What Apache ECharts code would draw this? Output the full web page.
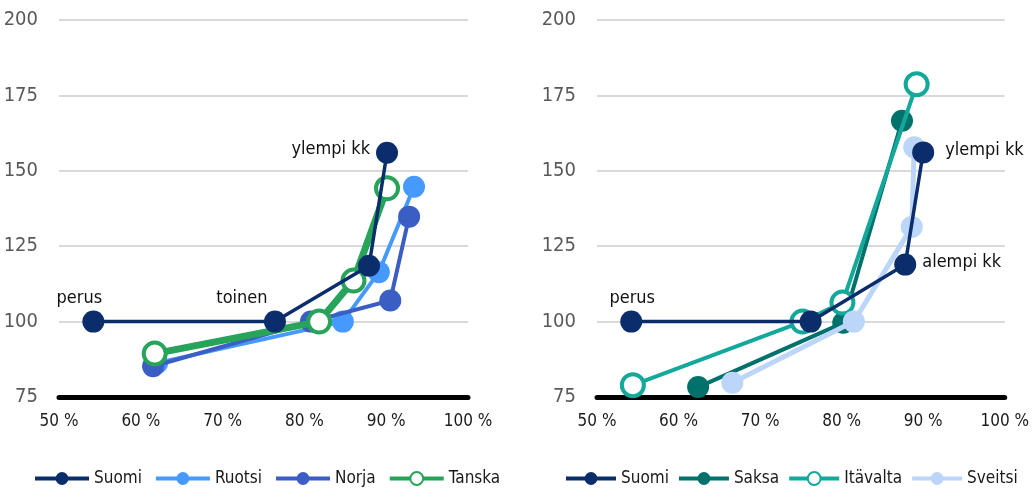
<!DOCTYPE html>
<html><head><meta charset="utf-8">
<script src="https://cdn.jsdelivr.net/npm/echarts@6/dist/echarts.min.js"></script>
<style>html,body{margin:0;padding:0;background:#fff}#c{width:1032px;height:491px}</style>
</head><body><div id="c"></div>
<script>
// Left panel data [x %, index]
const leftSuomi  = [[54.2,100],[76.4,100],[87.9,118.5],[90.1,156]];
const leftRuotsi = [[62.0,86.3],[84.7,100],[89.1,116.4],[93.4,144.7]];
const leftNorja  = [[61.5,85.2],[80.8,100],[90.5,107],[92.8,134.8]];
const leftTanska = [[61.7,89.4],[81.8,100],[86.0,113.6],[90.1,144.2]];
// Right panel data
const rightSuomi    = [[54.2,100],[76.2,100],[87.8,118.9],[90.0,156.1]];
const rightSaksa    = [[62.4,78.3],[80.2,99.6],[87.4,166.6]];
const rightItavalta = [[54.4,78.9],[75.2,100],[80.1,106.3],[89.2,178.7]];
const rightSveitsi  = [[66.6,79.7],[81.5,100],[88.6,131.4],[88.9,157.8]];
const leftLabels  = ['perus','toinen','','ylempi kk'];
const rightLabels = ['perus','','alempi kk','ylempi kk'];
const legendLeft  = ['Suomi','Ruotsi','Norja','Tanska'];
const legendRight = ['Suomi','Saksa','Itävalta','Sveitsi'];

const FONT = '"Liberation Sans Narrow","DejaVu Sans Condensed",sans-serif';
const C = {suomi:'#0b2d6b', ruotsi:'#4599ff', norja:'#3b5ec4', tanska:'#27a35a',
           saksa:'#00716b', itavalta:'#14a89b', sveitsi:'#bcd6f9'};

const leftLabelCfg = [
  {position:'top', offset:[-14,2]},
  {position:'top', offset:[-33,2]},
  null,
  {position:'left', distance:6, offset:[0,-3]}
];
const rightLabelCfg = [
  {position:'top', offset:[1,2]},
  null,
  {position:'right', distance:6, offset:[0,-2]},
  {position:'right', distance:11, offset:[0,-2]}
];

function withLabels(data, names, cfg){
  return data.map((v,i)=>{
    if(!names[i]) return {value:v};
    return {value:v, label:Object.assign({show:true, formatter:names[i], color:'#111',
      fontSize:18, fontFamily:FONT}, cfg[i])};
  });
}

function xAxis(idx){
  return {type:'value', gridIndex:idx, min:50, max:100, interval:10,
    axisLine:{show:true, onZero:false, lineStyle:{color:'#000', width:5}},
    axisTick:{show:false}, splitLine:{show:false},
    axisLabel:{formatter:'{value} %', color:'#1a1a1a', fontSize:17, fontFamily:FONT, margin:16}};
}
function yAxis(idx){
  return {type:'value', gridIndex:idx, min:75, max:200, interval:25,
    axisLine:{show:false}, axisTick:{show:false},
    splitLine:{lineStyle:{color:'#d9d9d9', width:2}},
    axisLabel:{color:'#595959', fontSize:20, fontFamily:FONT, margin:21}};
}
function ser(name, data, idx, color, lw, hollow, z, size){
  return {name:name, type:'line', xAxisIndex:idx, yAxisIndex:idx, data:data, z:z,
    symbol:'circle', symbolSize:size||22, showSymbol:true,
    lineStyle:{color:color, width:lw},
    itemStyle: hollow ? {color:'#fff', borderColor:color, borderWidth:4} : {color:color, borderWidth:0},
    emphasis:{disabled:true}, animation:false};
}
function legend(data, left, iw, gap, fs){
  return {data:data, left:left, top:470, padding:0, width:470, itemWidth:iw, itemHeight:16, itemGap:gap,
    lineStyle:{width:4}, textStyle:{fontSize:fs, color:'#1a1a1a', fontFamily:FONT}};
}

const chart = echarts.init(document.getElementById('c'));
chart.setOption({
  backgroundColor:'#fff',
  textStyle:{fontFamily:FONT},
  grid:[{left:59, top:20, width:409, height:377},
        {left:597, top:20, width:410, height:377}],
  xAxis:[xAxis(0), xAxis(1)],
  yAxis:[yAxis(0), yAxis(1)],
  legend:[legend(legendLeft, 33, 54, 12, 17), legend(legendRight, 564, 50, 8, 17)],
  series:[
    ser('Ruotsi', leftRuotsi, 0, C.ruotsi, 4, false, 2),
    ser('Norja', leftNorja, 0, C.norja, 4, false, 3),
    ser('Tanska', leftTanska, 0, C.tanska, 7, true, 4),
    ser('Suomi', withLabels(leftSuomi, leftLabels, leftLabelCfg), 0, C.suomi, 3.5, false, 5),
    ser('Saksa', rightSaksa, 1, C.saksa, 4, false, 2),
    ser('Itävalta', rightItavalta, 1, C.itavalta, 4, true, 3),
    ser('Sveitsi', rightSveitsi, 1, C.sveitsi, 5, false, 4),
    ser('Suomi', withLabels(rightSuomi, rightLabels, rightLabelCfg), 1, C.suomi, 3.5, false, 5)
  ]
});
</script></body></html>
